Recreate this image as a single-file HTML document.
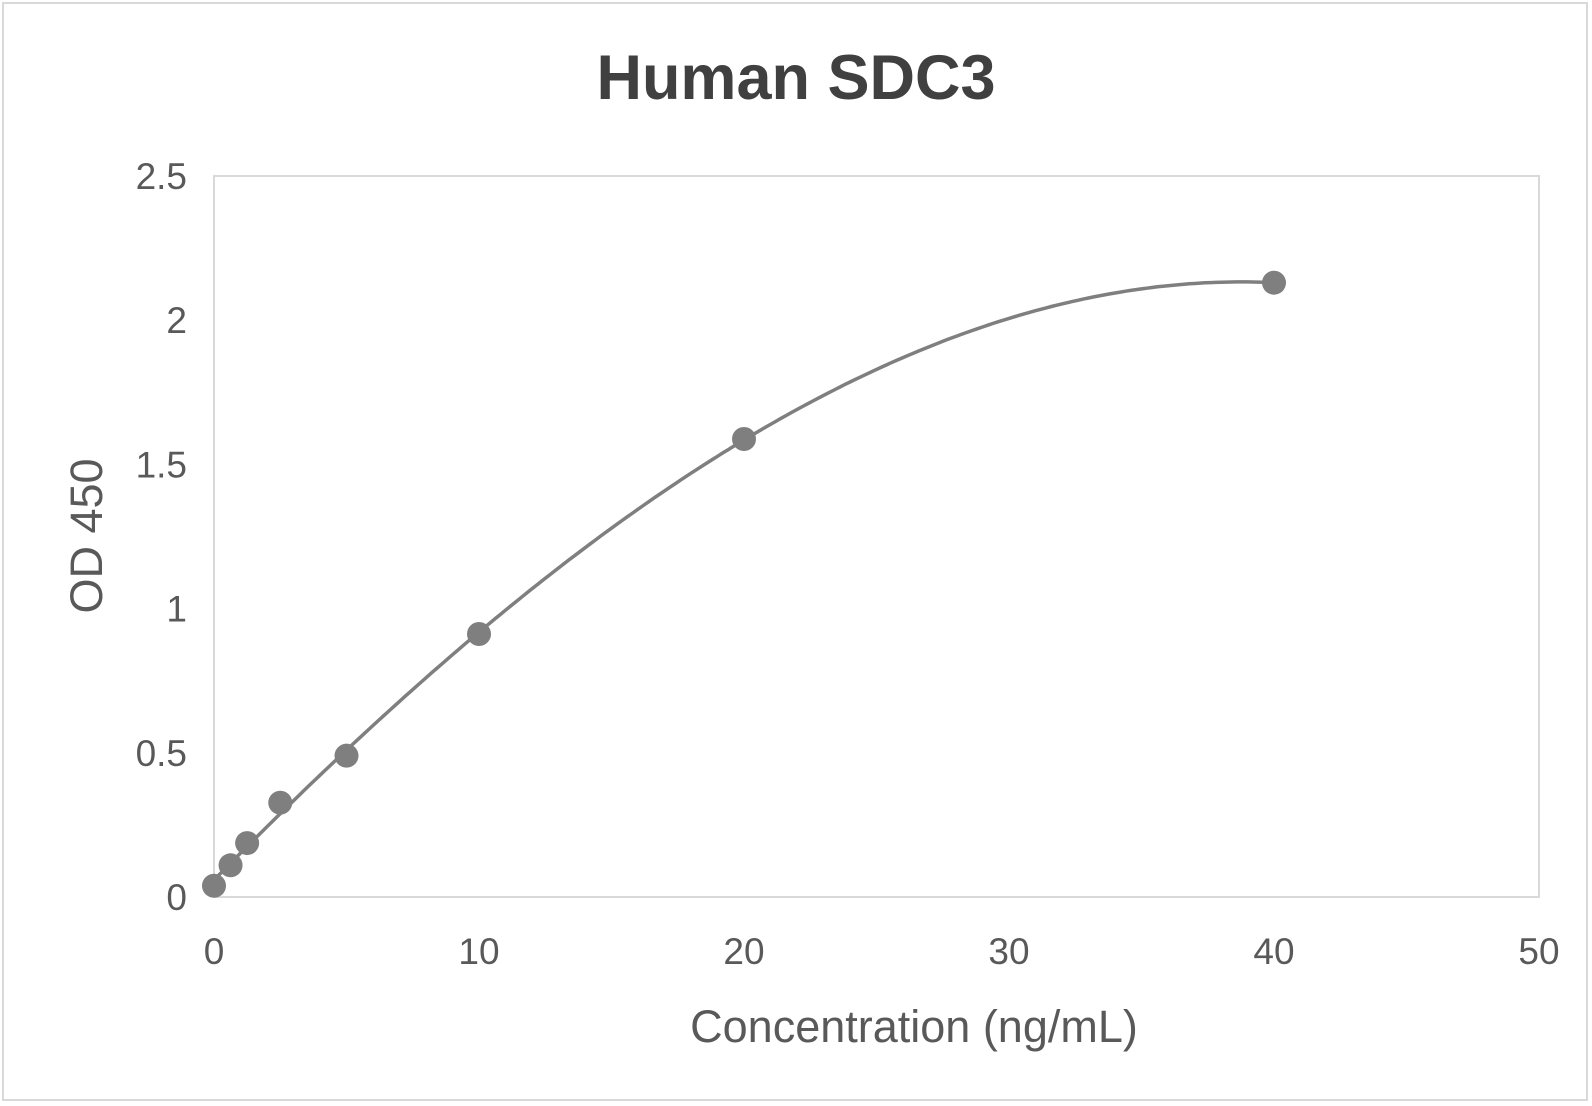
<!DOCTYPE html>
<html><head><meta charset="utf-8"><style>
body{margin:0;background:#fff;}
svg{display:block;font-family:"Liberation Sans",Arial,sans-serif;}
</style></head><body>
<svg id="chart" width="1592" height="1106">
<rect x="3" y="3" width="1584" height="1097" fill="#fff" stroke="#d9d9d9" stroke-width="2"/>
<text x="796" y="99" text-anchor="middle" font-size="63" font-weight="bold" fill="#404040">Human SDC3</text>
<rect x="214" y="176" width="1325" height="721" fill="none" stroke="#d9d9d9" stroke-width="2"/>
<g id="ticks"></g>
<text x="914" y="1042" text-anchor="middle" font-size="45" fill="#595959">Concentration (ng/mL)</text>
<text transform="translate(102,536) rotate(-90)" text-anchor="middle" font-size="45" fill="#595959">OD 450</text>
<g id="series"></g>
</svg>
<script>
const xValues=[0,0.625,1.25,2.5,5,10,20,40];
const yValues=[0.039,0.11,0.187,0.327,0.49,0.912,1.588,2.13];
const xTicks=[0,10,20,30,40,50];
const yTicks=[0,0.5,1,1.5,2,2.5];
const yTickLabels=["0","0.5","1","1.5","2","2.5"];
const X0=214,X1=1539,Y0=897,Y1=176;
const sx=v=>X0+(v-0)/50*(X1-X0);
const sy=v=>Y0-(v-0)/2.5*(Y0-Y1);
const NS="http://www.w3.org/2000/svg";
const tg=document.getElementById('ticks');
xTicks.forEach(t=>{const e=document.createElementNS(NS,'text');
e.setAttribute('x',sx(t));e.setAttribute('y',964);e.setAttribute('text-anchor','middle');
e.setAttribute('font-size','37');e.setAttribute('fill','#595959');e.textContent=t;


tg.appendChild(e);});
yTicks.forEach((t,i)=>{const e=document.createElementNS(NS,'text');
e.setAttribute('x',187);e.setAttribute('y',sy(t)+13);e.setAttribute('text-anchor','end');
e.setAttribute('font-size','37');e.setAttribute('fill','#595959');e.textContent=yTickLabels[i];


tg.appendChild(e);});
function polyfit(xs,ys,deg){const n=deg+1;const A=[];for(let i=0;i<n;i++){A.push([]);for(let j=0;j<=n;j++)A[i].push(0);}
xs.forEach((x,k)=>{for(let i=0;i<n;i++){for(let j=0;j<n;j++)A[i][j]+=Math.pow(x,i+j);A[i][n]+=ys[k]*Math.pow(x,i);}});
for(let i=0;i<n;i++){let m=i;for(let r=i+1;r<n;r++)if(Math.abs(A[r][i])>Math.abs(A[m][i]))m=r;[A[i],A[m]]=[A[m],A[i]];
for(let r=0;r<n;r++){if(r===i)continue;const f=A[r][i]/A[i][i];for(let c=i;c<=n;c++)A[r][c]-=f*A[i][c];}}
return A.map((row,i)=>row[n]/row[i]);}
const coef=polyfit(xValues,yValues,3);
const f=x=>coef.reduce((s,c,i)=>s+c*Math.pow(x,i),0);
const sg=document.getElementById('series');
let d='';const xmax=Math.max(...xValues);
for(let k=0;k<=200;k++){const x=xmax*k/200;d+=(k?'L':'M')+sx(x).toFixed(1)+','+sy(f(x)).toFixed(1);}
const path=document.createElementNS(NS,'path');
path.setAttribute('d',d);path.setAttribute('fill','none');path.setAttribute('stroke','#7f7f7f');path.setAttribute('stroke-width','3.5');


sg.appendChild(path);
xValues.forEach((x,i)=>{const c=document.createElementNS(NS,'circle');
c.setAttribute('cx',sx(x));c.setAttribute('cy',sy(yValues[i]));c.setAttribute('r',12);c.setAttribute('fill','#7f7f7f');


sg.appendChild(c);});
</script>
</body></html>
